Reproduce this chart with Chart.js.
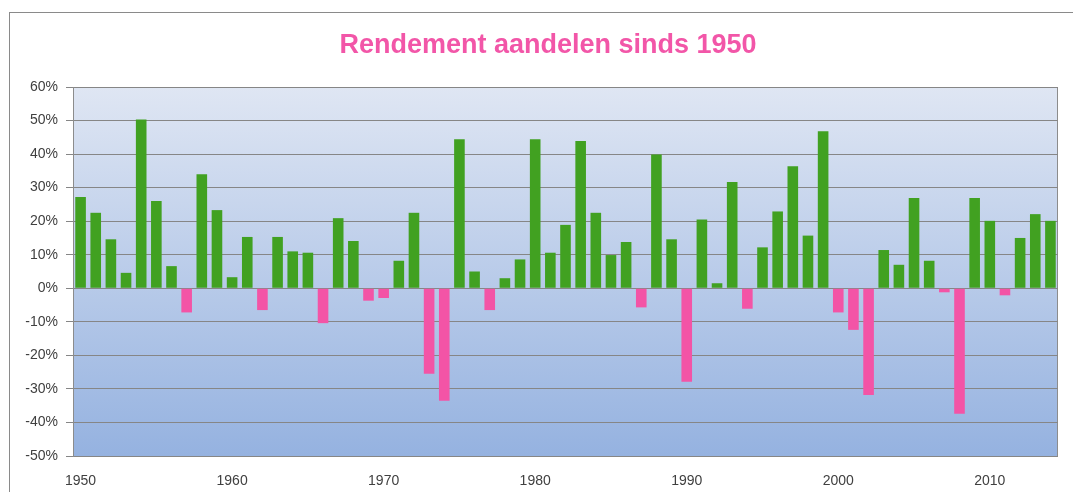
<!DOCTYPE html>
<html>
<head>
<meta charset="utf-8">
<script src="https://cdn.jsdelivr.net/npm/chart.js@4.4.0/dist/chart.umd.min.js"></script>
<style>
  html, body { margin: 0; padding: 0; background: #fff; }
  #wrap { position: relative; width: 1073px; height: 492px; overflow: hidden; }
  #frame {
    position: absolute; left: 9px; top: 12px; width: 1100px; height: 520px;
    border-left: 1px solid #8a8a8a; border-top: 1px solid #8a8a8a;
    pointer-events: none;
  }
  canvas { position: absolute; left: 0; top: 0; }
</style>
</head>
<body>
<div id="wrap">
  <canvas id="chart" width="1073" height="492"></canvas>
  <div id="frame"></div>
</div>
<script>
// jaarlijks rendement (%) per jaar
var years = [];
for (var y = 1950; y <= 2014; y++) years.push(String(y));

var returns = [
  27.2, 22.5, 14.6, 4.6, 50.3, 26.0, 6.6, -7.2, 34.0, 23.3,   // 1950-1959
  3.3, 15.3, -6.5, 15.3, 11.0, 10.6, -10.4, 20.9, 14.1, -3.7, // 1960-1969
  -2.9, 8.2, 22.5, -25.5, -33.5, 44.4, 5.0, -6.5, 3.0, 8.6,   // 1970-1979
  44.4, 10.6, 18.9, 43.9, 22.5, 9.9, 13.8, -5.7, 39.9, 14.6,  // 1980-1989
  -27.9, 20.5, 1.5, 31.7, -6.1, 12.2, 22.9, 36.4, 15.7, 46.8, // 1990-1999
  -7.2, -12.4, -31.8, 11.4, 7.0, 26.9, 8.2, -1.2, -37.4, 26.9, // 2000-2009
  20.1, -2.1, 15.0, 22.1, 20.1                                 // 2010-2014
];

var yTicks = [-50, -40, -30, -20, -10, 0, 10, 20, 30, 40, 50, 60];
var xTickYears = ['1950', '1960', '1970', '1980', '1990', '2000', '2010'];

var green = '#41a121';
var pink = '#f354a6';

// achtergrond van het plotgebied (verloop) + rand
var plotBg = {
  id: 'plotBg',
  beforeDraw: function(chart) {
    var ctx = chart.ctx, a = chart.chartArea;
    var g = ctx.createLinearGradient(0, a.top, 0, a.bottom);
    g.addColorStop(0, '#dfe6f3');
    g.addColorStop(1, '#95b2e0');
    ctx.save();
    ctx.fillStyle = g;
    ctx.fillRect(a.left, a.top, a.right - a.left, a.bottom - a.top);
    ctx.strokeStyle = '#8c8c8c';
    ctx.lineWidth = 1;
    ctx.strokeRect(a.left + 0.5, a.top + 0.5, a.right - a.left - 1, a.bottom - a.top);
    ctx.restore();
  }
};

var titlePlugin = {
  id: 'customTitle',
  afterDraw: function(chart) {
    var ctx = chart.ctx;
    ctx.save();
    ctx.fillStyle = '#f256a8';
    ctx.font = 'bold 27px "Liberation Sans", Arial, sans-serif';
    ctx.textAlign = 'center';
    ctx.textBaseline = 'middle';
    ctx.fillText('Rendement aandelen sinds 1950', 548, 46);
    ctx.restore();
  }
};

var ctx = document.getElementById('chart').getContext('2d');
new Chart(ctx, {
  type: 'bar',
  data: {
    labels: years,
    datasets: [{
      data: returns,
      backgroundColor: returns.map(function(v) { return v < 0 ? pink : green; }),
      borderWidth: 0,
      categoryPercentage: 1.0,
      barPercentage: 0.7
    }]
  },
  options: {
    responsive: false,
    animation: false,
    layout: { padding: { left: 10, right: 15, top: 87, bottom: 2 } },
    plugins: {
      legend: { display: false },
      title: { display: false },
      tooltip: { enabled: false }
    },
    scales: {
      x: {
        afterFit: function(scale) { scale.height = 34; },
        grid: { display: false, drawTicks: false },
        border: { display: false },
        ticks: {
          autoSkip: false,
          maxRotation: 0,
          padding: 17,
          color: '#404040',
          font: { family: '"Liberation Sans", Arial, sans-serif', size: 14 },
          callback: function(value) {
            var lab = this.getLabelForValue(value);
            return xTickYears.indexOf(lab) >= 0 ? lab : '';
          }
        }
      },
      y: {
        min: -50,
        max: 60,
        afterFit: function(scale) { scale.width = 63; },
        afterBuildTicks: function(scale) {
          scale.ticks = yTicks.map(function(v) { return { value: v }; });
        },
        grid: { color: '#868686', lineWidth: 1, tickLength: 7 },
        border: { display: true, color: '#8c8c8c' },
        ticks: {
          padding: 8,
          color: '#404040',
          font: { family: '"Liberation Sans", Arial, sans-serif', size: 14 },
          callback: function(v) { return v + '%'; }
        }
      }
    }
  },
  plugins: [plotBg, titlePlugin]
});
</script>
</body>
</html>
